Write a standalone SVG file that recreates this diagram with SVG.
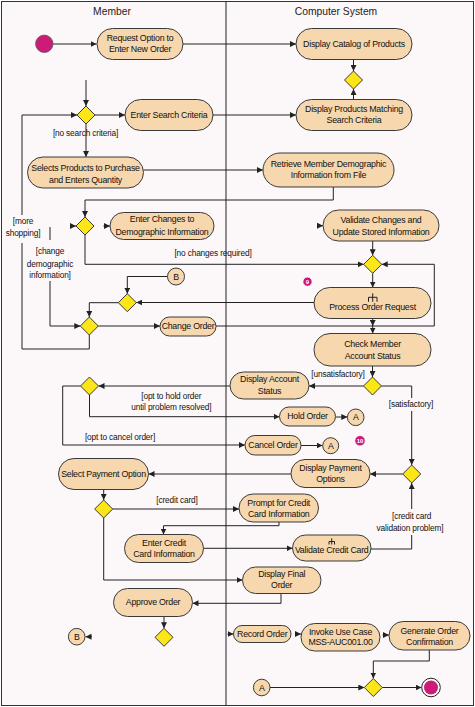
<svg xmlns="http://www.w3.org/2000/svg" width="475" height="707" viewBox="0 0 475 707">
<style>
.t{font-family:"Liberation Sans",Arial,sans-serif;font-size:8.8px;letter-spacing:-0.25px;text-anchor:middle;fill:#111}
.l{font-family:"Liberation Sans",Arial,sans-serif;font-size:8.3px;letter-spacing:-0.15px;text-anchor:middle;fill:#111}
.h{font-family:"Liberation Sans",Arial,sans-serif;font-size:10.3px;text-anchor:middle;fill:#222}
.n{fill:#f6d7ae;stroke:#3a3a3a;stroke-width:1}
.d{fill:#fde617;stroke:#3a3a3a;stroke-width:1}
.c{fill:none;stroke:#222;stroke-width:1}
.a{fill:none;stroke:#222;stroke-width:1;marker-end:url(#ah)}
.b{fill:#c8197a;stroke:#fff;stroke-width:0.8}
.bt{font-family:"Liberation Sans",Arial,sans-serif;font-size:6px;font-weight:bold;text-anchor:middle;fill:#fff}
</style>
<defs>
<marker id="ah" viewBox="0 0 6 6" refX="6" refY="3" markerWidth="6" markerHeight="6" markerUnits="userSpaceOnUse" orient="auto"><path d="M0,0 L6,3 L0,6 z" fill="#222"/></marker>
</defs>
<rect x="1.5" y="1.5" width="472" height="704" fill="#fcf7f9" stroke="#333" stroke-width="1"/>
<line x1="226" y1="1.5" x2="226" y2="705.5" stroke="#222" stroke-width="1"/>
<text class="h" x="112" y="15">Member</text>
<text class="h" x="336" y="15">Computer System</text>

<g id="connectors">
<path class="a" d="M53,44 H96.5"/>
<path class="a" d="M183,44 H296"/>
<path class="a" d="M353.5,59.5 V71"/>
<path class="a" d="M353.5,99.5 V89"/>
<path class="a" d="M86,80 V106"/>
<path class="c" d="M89.3,335 V349 H22 V243"/>
<path class="a" d="M22,215 V115 H77"/>
<path class="a" d="M95,115 H125"/>
<path class="a" d="M213,115 H296"/>
<path class="a" d="M86,124 V157"/>
<path class="a" d="M143.5,170 H263"/>
<path class="a" d="M333.3,187 V200 H85 V217"/>
<path class="a" d="M70.5,226 H76"/>
<path class="a" d="M103.5,226 H110"/>
<path class="a" d="M85,235 V264.3 H363.7"/>
<path class="a" d="M317,225.7 H323"/>
<path class="a" d="M372.7,241 V255.3"/>
<path class="a" d="M372.7,273.3 V287.5"/>
<path class="a" d="M216,326 H434.3 V264.3 H381.7"/>
<path class="a" d="M372.7,318.5 V326"/>
<path class="a" d="M372.7,326 V333.5"/>
<path class="a" d="M314,302.5 H136.3"/>
<path class="a" d="M167.5,276.5 H127.3 V293.7"/>
<path class="a" d="M118.3,302.7 H89.3 V317"/>
<path class="a" d="M98.3,326 H160"/>
<path class="c" d="M50,227 V240"/>
<path class="a" d="M50,281 V326 H80.3"/>
<path class="a" d="M372.5,366 V377"/>
<path class="a" d="M363.5,386 H309"/>
<path class="a" d="M230,386 H98.5"/>
<path class="a" d="M89.5,395 V416.7 H279.5"/>
<path class="a" d="M335.5,417 H347.3"/>
<path class="a" d="M80.5,386 H62.7 V445 H245"/>
<path class="a" d="M301,445.5 H322.5"/>
<path class="c" d="M381.5,386 H411.7 V398"/>
<path class="a" d="M411.7,411 V465"/>
<path class="a" d="M402.7,474 H370"/>
<path class="a" d="M291,474 H148.5"/>
<path class="a" d="M103.7,489.5 V500"/>
<path class="a" d="M112.7,509 H239"/>
<path class="a" d="M279,522 V525.7 H163.5 V534.5"/>
<path class="a" d="M203.5,548.3 H292.5"/>
<path class="c" d="M371,549 H411.7 V535"/>
<path class="a" d="M411.7,509 V483"/>
<path class="a" d="M103.7,518 V580 H242.5"/>
<path class="a" d="M281,593.5 V603.3 H192.5"/>
<path class="a" d="M164,616.5 V628.3"/>
<path class="a" d="M92,636.7 H85.5"/>
<path class="a" d="M227.5,634 H233.5"/>
<path class="a" d="M295,634 H301"/>
<path class="a" d="M382.5,635 H389"/>
<path class="a" d="M429.3,650 V661 H373.3 V678.5"/>
<path class="a" d="M270,687.5 H364.3"/>
<path class="a" d="M382.3,687.5 H421.5"/>
</g>

<g id="labels">
<text class="l" x="85.5" y="135.5">[no search criteria]</text>
<text class="l" x="23" y="224">[more</text>
<text class="l" x="23" y="236">shopping]</text>
<text class="l" x="50" y="254">[change</text>
<text class="l" x="50" y="266.5">demographic</text>
<text class="l" x="50" y="278">information]</text>
<text class="l" x="213" y="256">[no changes required]</text>
<text class="l" x="338" y="377">[unsatisfactory]</text>
<text class="l" x="411" y="407">[satisfactory]</text>
<text class="l" x="171.3" y="398.7">[opt to hold order</text>
<text class="l" x="171.3" y="409.7">until problem resolved]</text>
<text class="l" x="120" y="440">[opt to cancel order]</text>
<text class="l" x="177" y="503">[credit card]</text>
<text class="l" x="411.7" y="518.5">[credit card</text>
<text class="l" x="410" y="531">validation problem]</text>
</g>

<g id="start"><circle cx="44.3" cy="43.8" r="8.7" fill="#cc1c78" stroke="#555" stroke-width="0.8"/></g>
<g id="end"><circle cx="431" cy="687.5" r="9.3" fill="#fff" stroke="#222" stroke-width="1"/><circle cx="431" cy="687.5" r="7" fill="#cc1c78"/></g>

<g id="n1"><rect class="n" x="97" y="28.5" width="86" height="31" rx="15.5"/><text class="t" x="140" y="41.4">Request Option to</text><text class="t" x="140" y="52.4">Enter New Order</text></g>
<g id="n2"><rect class="n" x="296" y="28.5" width="116" height="31" rx="15.5"/><text class="t" x="354" y="47">Display Catalog of Products</text></g>
<g id="n3"><rect class="n" x="125" y="99.5" width="88" height="31" rx="15.5"/><text class="t" x="169" y="118">Enter Search Criteria</text></g>
<g id="n4"><rect class="n" x="296" y="99.5" width="116" height="31" rx="15.5"/><text class="t" x="354" y="112.4">Display Products Matching</text><text class="t" x="354" y="123">Search Criteria</text></g>
<g id="n5"><rect class="n" x="27.5" y="157" width="116" height="31" rx="15.5"/><text class="t" x="85.5" y="171.4">Selects Products to Purchase</text><text class="t" x="85.5" y="183">and Enters Quantity</text></g>
<g id="n6"><rect class="n" x="263" y="153" width="131" height="34" rx="17"/><text class="t" x="328.5" y="167">Retrieve Member Demographic</text><text class="t" x="328.5" y="178">Information from File</text></g>
<g id="n7"><rect class="n" x="110" y="212.5" width="104" height="27" rx="13.5"/><text class="t" x="162" y="222.4">Enter Changes to</text><text class="t" x="162" y="234.5">Demographic Information</text></g>
<g id="n8"><rect class="n" x="323" y="210" width="116" height="31" rx="15.5"/><text class="t" x="381" y="223">Validate Changes and</text><text class="t" x="381" y="234.5">Update Stored Information</text></g>
<g id="n9"><rect class="n" x="314" y="287.5" width="117" height="31" rx="15.5"/><path class="c" d="M372.7,293.3 V297.3 M368.5,301.8 V297.3 H377 V301.8 M372.7,297.3 V301.8"/><text class="t" x="372.5" y="309.7">Process Order Request</text></g>
<g id="n10"><rect class="n" x="160" y="317" width="56" height="19" rx="9.5"/><text class="t" x="188" y="329.2">Change Order</text></g>
<g id="n11"><rect class="n" x="314" y="333.5" width="117" height="32.5" rx="16"/><text class="t" x="372.5" y="347">Check Member</text><text class="t" x="372.5" y="358.5">Account Status</text></g>
<g id="n12"><rect class="n" x="230" y="372" width="79" height="27" rx="13.5"/><text class="t" x="269.5" y="382.3">Display Account</text><text class="t" x="269.5" y="394">Status</text></g>
<g id="n13"><rect class="n" x="279.5" y="407" width="56" height="19" rx="9.5"/><text class="t" x="307.5" y="419.2">Hold Order</text></g>
<g id="n14"><rect class="n" x="245" y="435.5" width="56" height="19.5" rx="9.7"/><text class="t" x="273" y="448">Cancel Order</text></g>
<g id="n15"><rect class="n" x="291" y="459.5" width="79" height="28" rx="14"/><text class="t" x="330.5" y="471">Display Payment</text><text class="t" x="330.5" y="482">Options</text></g>
<g id="n16"><rect class="n" x="58.5" y="458.5" width="90" height="31" rx="15.5"/><text class="t" x="103.5" y="477">Select Payment Option</text></g>
<g id="n17"><rect class="n" x="239" y="494" width="79.5" height="28" rx="14"/><text class="t" x="278.7" y="505.7">Prompt for Credit</text><text class="t" x="278.7" y="517.3">Card Information</text></g>
<g id="n18"><rect class="n" x="124.5" y="534.5" width="79" height="28" rx="14"/><text class="t" x="164" y="546.3">Enter Credit</text><text class="t" x="164" y="557.3">Card Information</text></g>
<g id="n19"><rect class="n" x="292.5" y="535" width="78.5" height="26" rx="13"/><path class="c" d="M331.7,538.3 V541.5 M329,544.5 V541.5 H334.5 V544.5 M331.7,541.5 V544.5"/><text class="t" x="331.7" y="553.3">Validate Credit Card</text></g>
<g id="n20"><rect class="n" x="242.5" y="567" width="78.5" height="26.5" rx="13.2"/><text class="t" x="281.7" y="577.3">Display Final</text><text class="t" x="281.7" y="588">Order</text></g>
<g id="n21"><rect class="n" x="113.5" y="588.5" width="79" height="28" rx="14"/><text class="t" x="153" y="605.3">Approve Order</text></g>
<g id="n22"><rect class="n" x="233.5" y="625.5" width="57.5" height="17" rx="8.5"/><text class="t" x="262.2" y="637">Record Order</text></g>
<g id="n23"><rect class="n" x="301" y="623.5" width="79" height="27.5" rx="13.7"/><text class="t" x="340.5" y="634.7">Invoke Use Case</text><text class="t" x="340.5" y="645.3">MSS-AUC001.00</text></g>
<g id="n24"><rect class="n" x="389" y="621.5" width="81" height="28.5" rx="14.2"/><text class="t" x="429.5" y="634">Generate Order</text><text class="t" x="429.5" y="644.7">Confirmation</text></g>

<g id="d1"><path class="d" d="M86,106 L95,115 L86,124 L77,115 Z"/></g>
<g id="dR1"><path class="d" d="M353.5,71 L362.5,80 L353.5,89 L344.5,80 Z"/></g>
<g id="d2"><path class="d" d="M85,217 L94,226 L85,235 L76,226 Z"/></g>
<g id="dR2"><path class="d" d="M372.7,255.3 L381.7,264.3 L372.7,273.3 L363.7,264.3 Z"/></g>
<g id="d4"><path class="d" d="M127.3,293.7 L136.3,302.7 L127.3,311.7 L118.3,302.7 Z"/></g>
<g id="d3"><path class="d" d="M89.3,317 L98.3,326 L89.3,335 L80.3,326 Z"/></g>
<g id="dR3"><path class="d" d="M372.5,377 L381.5,386 L372.5,395 L363.5,386 Z"/></g>
<g id="d5"><path class="d" d="M89.5,377 L98.5,386 L89.5,395 L80.5,386 Z"/></g>
<g id="dR4"><path class="d" d="M411.7,465 L420.7,474 L411.7,483 L402.7,474 Z"/></g>
<g id="d6"><path class="d" d="M103.7,500 L112.7,509 L103.7,518 L94.7,509 Z"/></g>
<g id="d7"><path class="d" d="M164,628.3 L173,637.3 L164,646.3 L155,637.3 Z"/></g>
<g id="dF"><path class="d" d="M373.3,678.5 L382.3,687.5 L373.3,696.5 L364.3,687.5 Z"/></g>

<g id="cB1"><circle class="n" cx="176" cy="276.5" r="8.5"/><text class="t" x="176" y="279.6">B</text></g>
<g id="cA1"><circle class="n" cx="355.7" cy="417.3" r="8.3"/><text class="t" x="355.7" y="420.4">A</text></g>
<g id="cA2"><circle class="n" cx="330.7" cy="445.7" r="8"/><text class="t" x="330.7" y="448.8">A</text></g>
<g id="cB2"><circle class="n" cx="76.7" cy="636.7" r="8.3"/><text class="t" x="76.7" y="639.8">B</text></g>
<g id="cA3"><circle class="n" cx="261.7" cy="687.5" r="8.3"/><text class="t" x="261.7" y="690.6">A</text></g>

<g id="badge9"><circle class="b" cx="307.5" cy="281.7" r="4.6"/><text class="bt" x="307.5" y="283.8">9</text></g>
<g id="badge10"><circle class="b" cx="360" cy="440.7" r="5.2"/><text class="bt" x="360" y="442.8">10</text></g>
</svg>
